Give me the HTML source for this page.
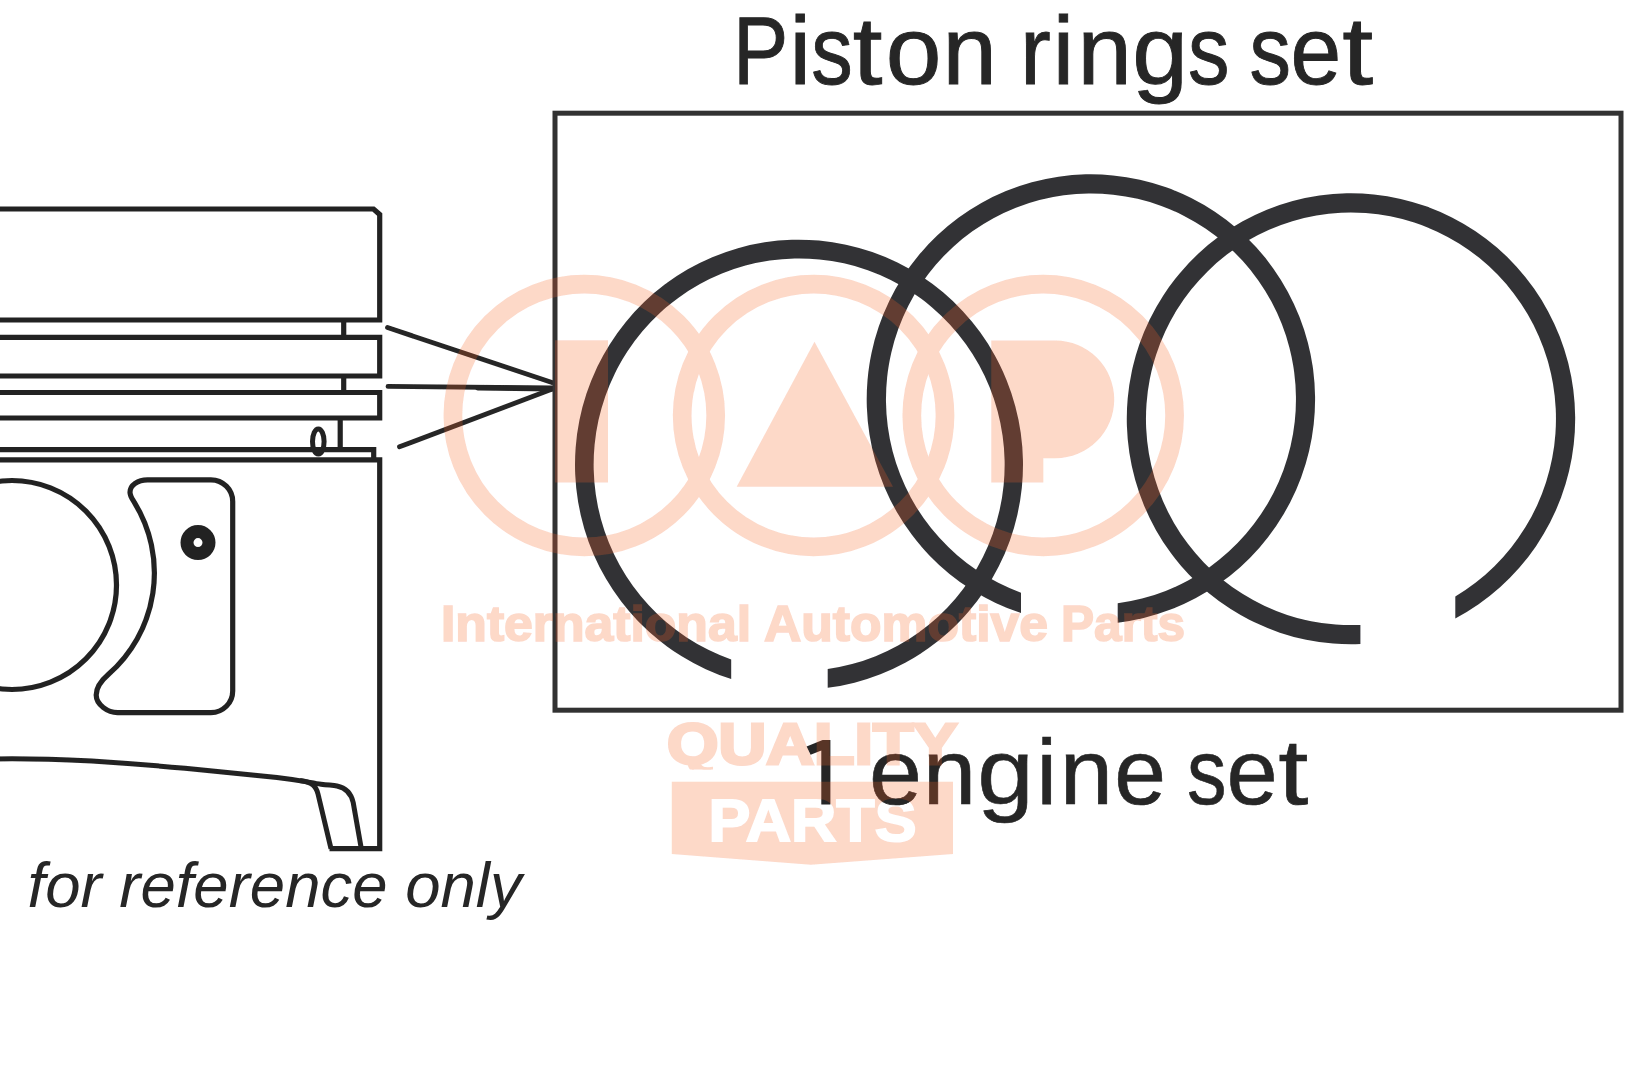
<!DOCTYPE html>
<html>
<head>
<meta charset="utf-8">
<title>Piston rings set</title>
<style>
html,body{margin:0;padding:0;background:#fff;}
body{width:1625px;height:1080px;overflow:hidden;font-family:"Liberation Sans",sans-serif;}
svg{display:block;position:absolute;left:0;top:0;}
text{font-family:"Liberation Sans",sans-serif;}
</style>
</head>
<body>
<svg width="1625" height="1080" viewBox="0 0 1625 1080">
<rect x="0" y="0" width="1625" height="1080" fill="#ffffff"/>
<defs><filter id="soft" x="-10" y="-10" width="1645" height="1100" filterUnits="userSpaceOnUse"><feGaussianBlur stdDeviation="0.55"/></filter></defs>
<g id="all" filter="url(#soft)">

<!-- ============ piston drawing ============ -->
<g id="piston" fill="none" stroke="#232323" stroke-width="5.2" stroke-linecap="butt" stroke-linejoin="miter">
  <!-- crown -->
  <path d="M-5 209H373.5L379.7 214.5V320H-5"/>
  <!-- ring groove 1 -->
  <path d="M343.7 320V337.3"/>
  <path d="M-5 337.3H379.7V376H-5"/>
  <!-- ring groove 2 -->
  <path d="M343.7 376V392.5"/>
  <path d="M-5 392.5H379.7V418H-5"/>
  <!-- oil ring groove -->
  <path d="M340.2 418V449.7"/>
  <path d="M-5 449.7H373.7V459.8"/>
  <ellipse cx="318.3" cy="441.5" rx="5.8" ry="12.6" stroke-width="5"/>
  <!-- skirt -->
  <path d="M-5 459.8H379.7V848.6H329.5"/>
  <!-- pin bore -->
  <circle cx="12" cy="585" r="104.5"/>
  <!-- pocket -->
  <path d="M147.4 479.8H211A21.7 21.7 0 0 1 232.7 501.5V690.9A21.7 21.7 0 0 1 211 712.6H117.6
           C107.9 712.6 96.2 704.7 96.2 695C96.2 687 101.7 680.2 108.5 674.3
           A134.7 134.7 0 0 0 134.5 502.6
           C131.9 498.3 130 496 130 492.2C130 485 138 479.8 147.4 479.8Z"/>
  <!-- bolt -->
  <circle cx="198" cy="542.6" r="11" stroke-width="13"/>
  <!-- lower curve and leg -->
  <path d="M-5 759C20 758.5 40 758.6 92 761C130 763.5 160 766 185 768.3C225 772 255 775 277 777.4C300 780 311 782.8 321 784.2C329 785.2 333 785.2 337 786C346 787.8 351 793 353.2 802.5L361.3 848.6" stroke-width="5"/>
  <path d="M300 780.5C312 782 316 786 318 794L331 848.6" stroke-width="5"/>
</g>

<!-- leader lines -->
<g fill="none" stroke="#262626" stroke-width="4.8" stroke-linecap="round">
  <path d="M387.5 327.5L552 382.5"/>
  <path d="M388 386.4L553 388"/>
  <path d="M478 387.9L553 388.9" stroke-width="5.4"/>
  <path d="M399.5 446.8L551 389.5"/>
</g>

<!-- ============ ring set box ============ -->
<rect x="555" y="113.2" width="1066" height="597" fill="none" stroke="#333333" stroke-width="5"/>

<!-- rings -->
<g fill="#323336" stroke="none">
<path d="M731.2 679.1A224 225 0 1 1 827.7 687.8L827.7 669.0A205.5 206.3 0 1 0 731.2 659.4Z"/>
<path d="M1021.0 613.1A224.2 225 0 1 1 1117.7 622.7L1117.7 603.3A205 205.8 0 1 0 1021.0 592.7Z"/>
<path d="M1360.4 644.1A224.2 225.5 0 1 1 1455.3 618.4L1455.3 596.4A205 206.3 0 1 0 1360.4 624.9Z"/>
</g>

<!-- ============ texts ============ -->
<g fill="#262626">
<g id="t_top" font-size="96.5" stroke="#262626" stroke-width="0.9">
<text transform="translate(733.11 83.5) scale(0.860 1)">P</text>
<text transform="translate(789.50 83.5) scale(1.000 1)">i</text>
<text transform="translate(811.35 83.5) scale(0.860 1)">s</text>
<text transform="translate(852.63 83.5) scale(1.108 1)">t</text>
<text transform="translate(885.74 83.5) scale(1.038 1)">o</text>
<text transform="translate(942.46 83.5) scale(1.012 1)">n</text>
<text transform="translate(1019.91 83.5) scale(0.958 1)">r</text>
<text transform="translate(1052.70 83.5) scale(1.000 1)">i</text>
<text transform="translate(1077.56 83.5) scale(1.012 1)">n</text>
<text transform="translate(1132.24 83.5) scale(1.039 1)">g</text>
<text transform="translate(1188.10 83.5) scale(0.860 1)">s</text>
<text transform="translate(1249.55 83.5) scale(0.860 1)">s</text>
<text transform="translate(1290.48 83.5) scale(0.945 1)">e</text>
<text transform="translate(1342.17 83.5) scale(1.152 1)">t</text>
</g>
<g id="t_bot" font-size="92" stroke="#262626" stroke-width="0.6">
<text transform="translate(869.05 804.3) scale(1.035 1)">e</text>
<text transform="translate(922.82 804.3) scale(1.044 1)">n</text>
<text transform="translate(977.13 804.3) scale(1.105 1)">g</text>
<text transform="translate(1036.40 804.3) scale(1.000 1)">i</text>
<text transform="translate(1059.74 804.3) scale(1.041 1)">n</text>
<text transform="translate(1114.34 804.3) scale(1.012 1)">e</text>
<text transform="translate(1186.95 804.3) scale(0.860 1)">s</text>
<text transform="translate(1226.49 804.3) scale(1.001 1)">e</text>
<text transform="translate(1278.25 804.3) scale(1.180 1)">t</text>
</g>
<path id="t_one" d="M830.4 740V804.5H821.3V750.6L810.6 754.7L806.6 746.4L822.6 740Z"/>
<text id="t_ref" x="27.5" y="907" font-size="63.5" font-style="italic">for reference only</text>
</g>

<!-- ============ watermark ============ -->
<defs>
<clipPath id="qclip"><rect x="655" y="712" width="320" height="57.5"/></clipPath>
<mask id="partsMask" maskUnits="userSpaceOnUse" x="660" y="770" width="310" height="110">
  <rect x="660" y="770" width="310" height="110" fill="#fff"/>
  <text id="t_parts" x="708.5" y="841.2" font-size="59.5" font-weight="bold" fill="#000" stroke="#000" stroke-width="2" textLength="208" lengthAdjust="spacingAndGlyphs">PARTS</text>
</mask>
</defs>
<g id="wm" opacity="0.25">
  <g fill="none" stroke="#f4622a" stroke-width="18.7">
    <circle cx="584.3" cy="415.5" r="131.4"/>
    <circle cx="813.6" cy="415.5" r="131.4"/>
    <circle cx="1043.2" cy="415.5" r="131.4"/>
  </g>
  <g fill="#f4622a" stroke="none">
    <rect x="555" y="340.3" width="53" height="142.2"/>
    <path d="M814.5 341.7L893 486.7H736.7Z"/>
    <path d="M991.3 340.6H1055.4A58.85 58.85 0 0 1 1055.4 458.3H1043.3V482.5H991.3Z"/>
    <g font-weight="bold" font-size="49.5" stroke="#f4622a" stroke-width="1.7">
    <text id="t_int" x="441" y="641" textLength="310" lengthAdjust="spacingAndGlyphs">International</text>
    <text id="t_auto" x="764" y="641" textLength="284" lengthAdjust="spacingAndGlyphs">Automotive</text>
    <text id="t_prt" x="1061" y="641" textLength="124" lengthAdjust="spacingAndGlyphs">Parts</text>
    </g>
    <text id="t_qual" clip-path="url(#qclip)" x="667" y="763.6" font-size="57" font-weight="bold" stroke="#f4622a" stroke-width="3" textLength="290.5" lengthAdjust="spacingAndGlyphs">QUALITY</text>
    <path d="M671.8 781.8H953V854L810.8 864.8L671.8 854Z" mask="url(#partsMask)"/>
  </g>
</g>

</g>
</svg>
</body>
</html>
